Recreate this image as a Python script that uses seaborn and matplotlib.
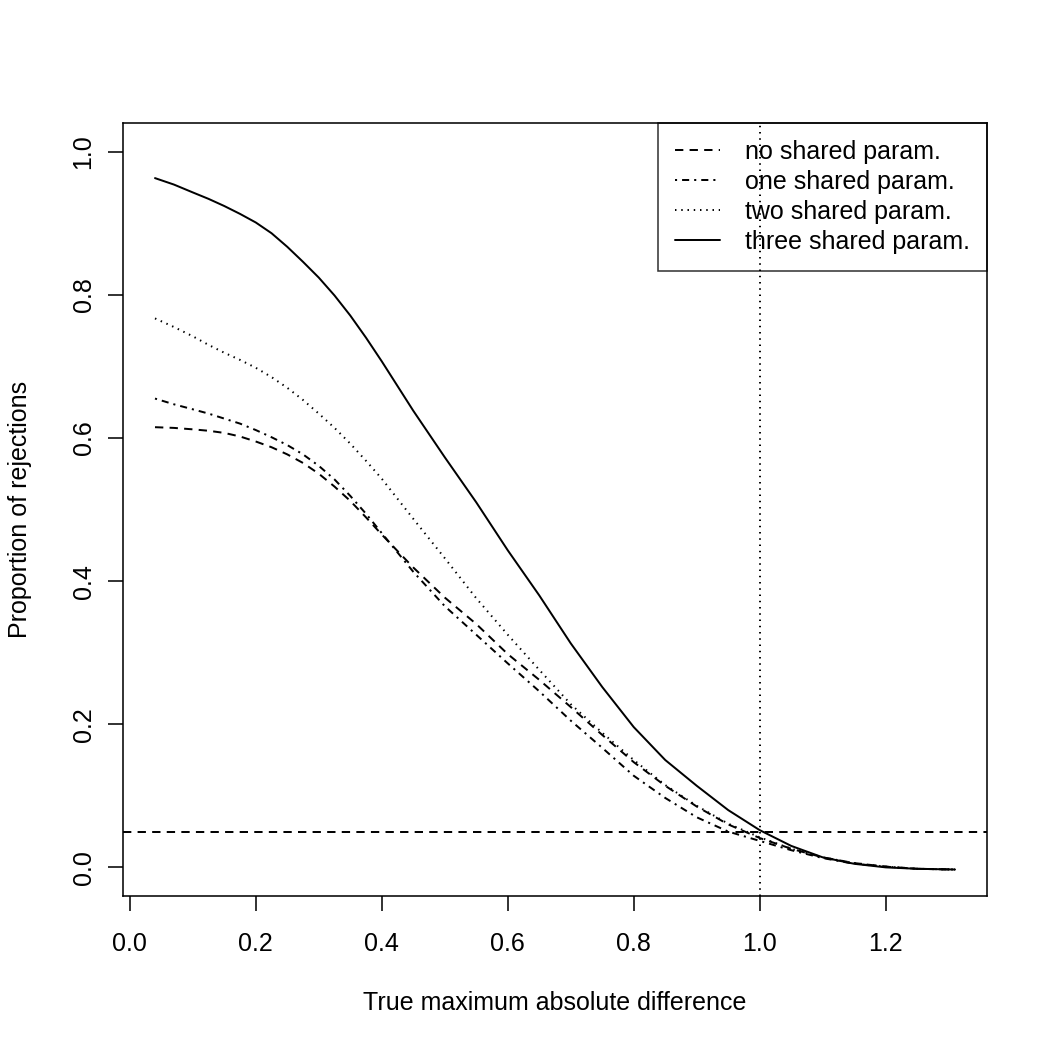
import numpy as np
import pandas as pd
import matplotlib
matplotlib.use("Agg")
import matplotlib.pyplot as plt
import seaborn as sns

# ---- data ----
x_vals = [0.04, 0.07, 0.10, 0.125, 0.15, 0.175, 0.20, 0.225, 0.25, 0.275, 0.30, 0.325, 0.35, 0.375,
          0.40, 0.45, 0.50, 0.55, 0.60, 0.65, 0.70, 0.75, 0.80, 0.85, 0.90, 0.95, 1.00, 1.05,
          1.10, 1.15, 1.20, 1.25, 1.31]
no_shared = [0.615, 0.614, 0.612, 0.610, 0.607, 0.602, 0.595, 0.587, 0.577, 0.565, 0.550, 0.532, 0.512, 0.489,
             0.465, 0.419, 0.377, 0.340, 0.298, 0.262, 0.224, 0.185, 0.147, 0.114, 0.085, 0.060, 0.041, 0.026,
             0.014, 0.006, 0.001, -0.002, -0.003]
one_shared = [0.655, 0.647, 0.640, 0.634, 0.627, 0.620, 0.611, 0.601, 0.590, 0.577, 0.561, 0.542, 0.519, 0.494,
              0.467, 0.413, 0.365, 0.325, 0.285, 0.246, 0.205, 0.167, 0.128, 0.097, 0.070, 0.050, 0.037, 0.024,
              0.013, 0.005, 0.001, -0.002, -0.003]
two_shared = [0.767, 0.755, 0.742, 0.730, 0.719, 0.709, 0.698, 0.685, 0.670, 0.653, 0.634, 0.614, 0.592, 0.568,
              0.543, 0.487, 0.432, 0.376, 0.325, 0.276, 0.228, 0.188, 0.150, 0.115, 0.086, 0.061, 0.042, 0.026,
              0.014, 0.006, 0.001, -0.002, -0.003]
three_shared = [0.963, 0.954, 0.943, 0.934, 0.924, 0.913, 0.901, 0.886, 0.867, 0.846, 0.824, 0.799, 0.771, 0.740,
                0.707, 0.638, 0.573, 0.510, 0.443, 0.380, 0.313, 0.252, 0.196, 0.150, 0.114, 0.080, 0.052, 0.030,
                0.014, 0.005, 0.000, -0.002, -0.003]

series_names = ["no shared param.", "one shared param.", "two shared param.", "three shared param."]
series_values = [no_shared, one_shared, two_shared, three_shared]
x_ticks = [0.0, 0.2, 0.4, 0.6, 0.8, 1.0, 1.2]
y_ticks = [0.0, 0.2, 0.4, 0.6, 0.8, 1.0]
x_label = "True maximum absolute difference"
y_label = "Proportion of rejections"
ref_h = 0.05
ref_v = 1.0

# long-form table
df = pd.DataFrame({
    "x": np.tile(x_vals, len(series_names)),
    "y": np.concatenate(series_values),
    "series": np.repeat(series_names, len(x_vals)),
})

sns.set_theme(style="white")
plt.rcParams["font.family"] = ["Liberation Sans", "DejaVu Sans"]
plt.rcParams["lines.scale_dashes"] = False
plt.rcParams["text.color"] = "black"

DPI = 150
W = H = 1050
fig = plt.figure(figsize=(W / DPI, H / DPI), dpi=DPI)
L, R, T, B = 123, 987, 123, 896
ax = fig.add_axes([L / W, 1 - B / H, (R - L) / W, (B - T) / H])

dash_map = {
    "no shared param.": (4.0, 3.0),
    "one shared param.": (1.0, 2.4, 3.4, 2.4),
    "two shared param.": (0.7, 2.3),
    "three shared param.": "",
}
lw = 0.95
sns.lineplot(data=df, x="x", y="y", style="series", style_order=series_names,
             dashes=dash_map, color="black", linewidth=lw, ax=ax, legend=False,
             estimator=None, sort=False)

ax.axhline(ref_h, color="black", lw=lw, dashes=(4.0, 3.0))
ax.axvline(ref_v, color="black", lw=lw, dashes=(0.7, 2.3))

# R-style limits (4% extension)
xr = max(x_vals) - min(x_vals)
ax.set_xlim(min(x_vals) - 0.04 * xr, max(x_vals) + 0.04 * xr)
ax.set_ylim(-0.04, 1.04)

ax.set_xticks(x_ticks)
ax.set_xticklabels([f"{v:.1f}" for v in x_ticks])
ax.set_yticks(y_ticks)
ax.set_yticklabels([f"{v:.1f}" for v in y_ticks], rotation=90, va="center")

for s in ax.spines.values():
    s.set_visible(True)
    s.set_color("black")
    s.set_linewidth(0.75)
ax.tick_params(axis="both", which="both", direction="out", length=7.2, width=0.75,
               color="black", labelsize=12, labelcolor="black", bottom=True, left=True)
ax.tick_params(axis="x", pad=10)
ax.tick_params(axis="y", pad=6)

ax.set_xlabel(x_label, fontsize=12, color="black")
ax.set_ylabel(y_label, fontsize=12, color="black")
ax.xaxis.label.set_va("center")
ax.yaxis.label.set_va("center")
ax.xaxis.set_label_coords(0.5, ((H - 1003) - (H - B)) / (B - T))
ax.yaxis.set_label_coords((20 - L) / (R - L), 0.5)

# legend built from the drawn lines
handles = ax.get_lines()[:4]
leg = ax.legend(handles=handles, labels=series_names, loc="upper right", fontsize=12,
                frameon=True, fancybox=False, borderaxespad=0, handlelength=1.8,
                handletextpad=1.0, labelspacing=0.24, borderpad=0.68)
for t in leg.get_texts():
    t.set_color("black")
frame = leg.get_frame()
frame.set_facecolor("none")
frame.set_edgecolor("black")
frame.set_linewidth(0.75)

fig.savefig("out.png", dpi=DPI, facecolor="white")
